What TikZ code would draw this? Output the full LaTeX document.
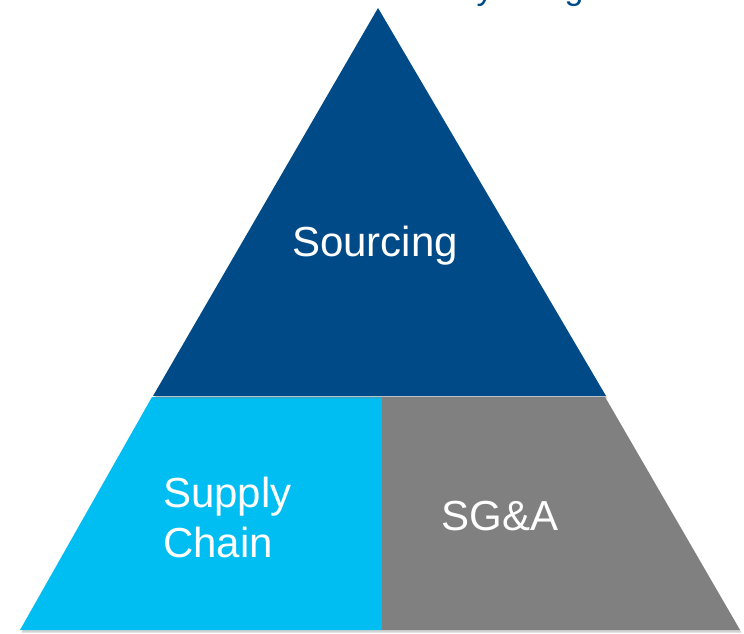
\documentclass[tikz,border=0pt]{standalone}
\usepackage{fontspec}
\setmainfont{Liberation Sans}
\usetikzlibrary{shadows}
\definecolor{deepblue}{RGB}{0,74,135}
\definecolor{skyblue}{RGB}{0,190,242}
\definecolor{midgray}{RGB}{128,128,128}
\begin{document}
\begin{tikzpicture}[x=1pt,y=1pt,
    piece/.style={drop shadow={shadow xshift=1.5pt,shadow yshift=-2.5pt,opacity=.35}},
    label/.style={text=white,font=\fontsize{42}{50}\selectfont,inner sep=0pt}]
    \useasboundingbox (0,0) rectangle (744,633);
    % corners
    \coordinate (apex) at (378,625);
    \coordinate (tl) at (153,237);
    \coordinate (tr) at (606,237);
    \coordinate (ml) at (152,236);
    \coordinate (mm) at (382,236);
    \coordinate (mr) at (605,236);
    \coordinate (bl) at (20,3);
    \coordinate (bm) at (382,3);
    \coordinate (br) at (740,3);
    % pieces
    \fill[skyblue,piece] (bl) -- (ml) -- (mm) -- (bm) -- cycle;
    \fill[midgray,piece] (bm) -- (mm) -- (mr) -- (br) -- cycle;
    \fill[deepblue,piece] (apex) -- (tl) -- (tr) -- cycle;
    % labels
    \node[label,anchor=base] (src) at (375,377) {Sourcing};
    \node[label,anchor=west,align=left] (sup) at (163,116) {Supply\\Chain};
    \node[label,anchor=base] (sga) at (500,103) {SG\&A};
    % title, cut off at the top
    \node[text=deepblue,font=\fontsize{34}{40}\selectfont,anchor=base,inner sep=0pt] (ty) at (485,633) {y};
    \node[text=deepblue,font=\fontsize{34}{40}\selectfont,anchor=base,inner sep=0pt] (tg) at (574,633) {g};
\end{tikzpicture}
\end{document}
